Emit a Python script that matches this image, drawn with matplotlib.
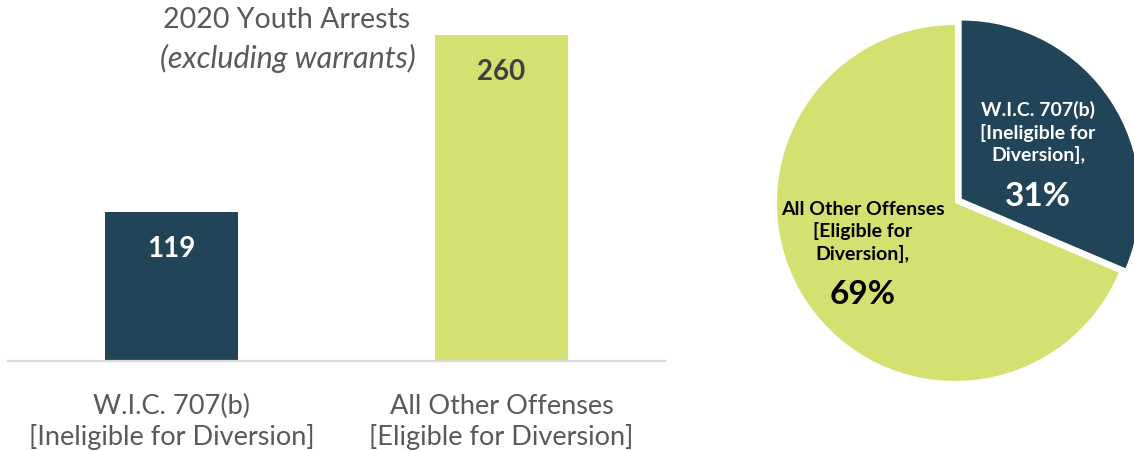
import numpy as np
import matplotlib.pyplot as plt

# data
categories = ["W.I.C. 707(b)\n[Ineligible for Diversion]",
              "All Other Offenses\n[Eligible for Diversion]"]
arrests = [119, 260]
pie_names = ["W.I.C. 707(b)\n[Ineligible for\nDiversion],",
             "All Other Offenses\n[Eligible for\nDiversion],"]
title_1 = "2020 Youth Arrests"
title_2 = "(excluding warrants)"

navy = "#214459"
lime = "#D4E170"
grey = "#595959"

plt.rcParams['font.family'] = ['Lato', 'DejaVu Sans']

W, H = 1134, 452
fig = plt.figure(figsize=(W / 100, H / 100), dpi=100)

########## bar chart ##########
ax = fig.add_axes([8 / W, (H - 362) / H, (665 - 8) / W, 362 / H])
ax.bar([0, 1], arrests, width=0.404, color=[navy, lime])
ax.set_xlim(-0.496, 1.496)
ax.set_ylim(0, 362 / 1.254)
for s in ["top", "right", "left"]:
    ax.spines[s].set_visible(False)
ax.spines["bottom"].set_color("#d9d9d9")
ax.spines["bottom"].set_linewidth(1.6)
ax.set_yticks([])
ax.set_xticks([0, 1])
ax.set_xticklabels(categories, fontsize=19.5, color=grey, linespacing=1.22)
ax.tick_params(axis="x", length=0, pad=23)

lbl_col = ["white", "#404040"]
for i, v in enumerate(arrests):
    ax.annotate(str(v), (i, v), xytext=(0, -26), textcoords="offset points",
                ha="center", va="center", fontsize=20, fontweight="bold",
                color=lbl_col[i])

fig.text(287 / W, 1 - 20 / H, title_1, ha="center", va="center",
         fontsize=20.5, color=grey)
fig.text(288 / W, 1 - 58 / H, title_2, ha="center", va="center",
         fontsize=22, color=grey, style="italic")

########## pie ##########
R = 178
half = 200
pax = fig.add_axes([(955 - half) / W, (H - 204 - half) / H, 2 * half / W, 2 * half / H])
wedges, _ = pax.pie(arrests, colors=[navy, lime], startangle=90, counterclock=False,
                    explode=[0.045, 0], radius=1.0, frame=True)
pax.set_xlim(-half / R, half / R)
pax.set_ylim(-half / R, half / R)
pax.axis("off")

total = sum(arrests)
name_pos = [(0.466, 0.40), (-0.52, -0.157)]
pct_pos = [(0.466, 0.04), (-0.52, -0.51)]
txt_col = ["white", "black"]
for i in range(len(arrests)):
    pax.text(*name_pos[i], pie_names[i], ha="center", va="center", fontsize=14,
             fontweight="bold", color=txt_col[i], linespacing=1.3)
    pax.text(*pct_pos[i], f"{round(100 * arrests[i] / total)}%", ha="center", va="center",
             fontsize=24, fontweight="bold", color=txt_col[i])

fig.savefig("out.png", dpi=100)
